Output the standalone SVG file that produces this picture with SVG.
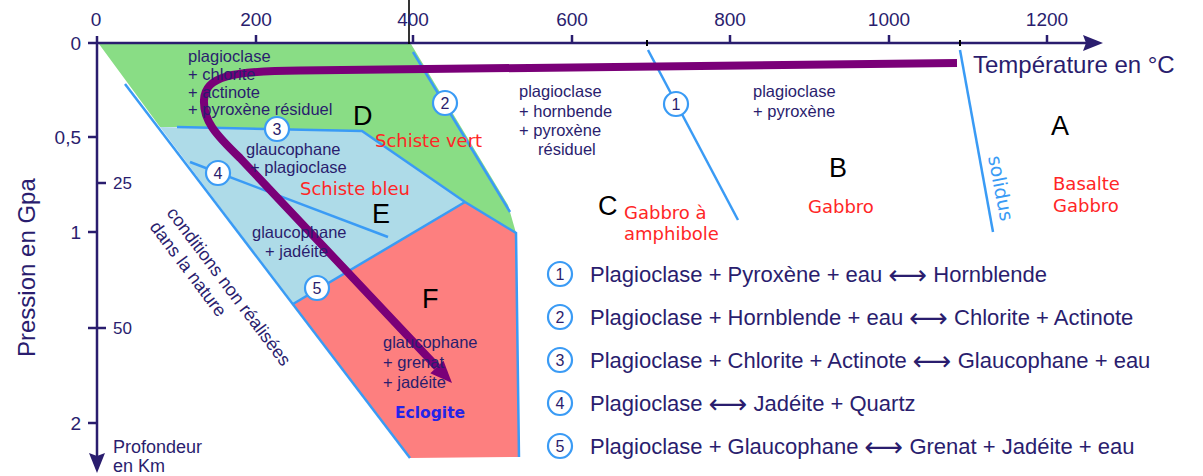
<svg xmlns="http://www.w3.org/2000/svg" width="1203" height="476" viewBox="0 0 1203 476">
<style>
.ax{stroke:#2a1d6e;stroke-width:2.5;fill:none}
.tk{stroke:#2a1d6e;stroke-width:2.5}
.t{font-family:"Liberation Sans",Arial,sans-serif;fill:#2a1d6e}
.lab{font-size:19px}
.min{font-size:16.5px}
.red{font-family:"DejaVu Sans",Verdana,sans-serif;font-size:18px;fill:#ff2626}
.big{font-family:"Liberation Sans",Arial,sans-serif;font-size:27px;fill:#000}
.bl{stroke:#3a9bf5;stroke-width:2.5;fill:none}
.cir{fill:#fff;stroke:#3a9bf5;stroke-width:2.2}
.num{font-family:"Liberation Sans",Arial,sans-serif;font-size:16px;fill:#2a1d6e;text-anchor:middle}
.leg{font-family:"Liberation Sans",Arial,"DejaVu Sans",sans-serif;font-size:22px;fill:#2a1d6e}
.arr{font-family:"DejaVu Sans",sans-serif;font-size:27px}
</style>
<rect width="1203" height="476" fill="#fff"/>

<g id="zones">
<polygon id="zone-green" points="99,44 411,44 508,205 516,233 465,202 362,131 177,127 160,127" fill="#89dd85"/>
<polygon id="zone-blue" points="160,127 362,131 465,202 293,304" fill="#aedbe8"/>
<polygon id="zone-red" points="293,304 465,202 516,233 519,457 410,458" fill="#fd7f7f"/>
</g>

<g id="connectors">
<line class="bl" x1="125" y1="84" x2="410" y2="458"/>
<polyline class="bl" points="177,127 362,131 465,202 516,233 519,457"/>
<line class="bl" x1="293" y1="304" x2="465" y2="202"/>
<line class="bl" x1="190" y1="162" x2="388" y2="237"/>
<line class="bl" x1="413" y1="52" x2="510" y2="212"/>
<line class="bl" x1="648" y1="50" x2="738" y2="220"/>
<line class="bl" x1="960" y1="50" x2="993" y2="232"/>
<path d="M957,63 L300,70.5 C232,71 205,76 204,100 C203,120 215,134 240,158 L437,367" fill="none" stroke="#7a0078" stroke-width="8"/>
<polygon points="452,383 430.3,373.2 443.5,360.8" fill="#7a0078"/>
</g>

<g id="axes">
<line class="ax" x1="97" y1="43" x2="1088" y2="43"/>
<polygon points="1103,43 1083,35 1086,43 1083,51" fill="#2a1d6e"/>
<line class="ax" x1="97" y1="36" x2="97" y2="458"/>
<polygon points="97,473 89,453 97,456 105,453" fill="#2a1d6e"/>
<g class="tk">
<line x1="256" y1="35" x2="256" y2="43"/>
<line x1="413" y1="35" x2="413" y2="43"/>
<line x1="572" y1="35" x2="572" y2="43"/>
<line x1="730" y1="35" x2="730" y2="43"/>
<line x1="889" y1="35" x2="889" y2="43"/>
<line x1="1047" y1="35" x2="1047" y2="43"/>
<line x1="88" y1="43" x2="97" y2="43"/>
<line x1="88" y1="137" x2="97" y2="137"/>
<line x1="97" y1="183" x2="106" y2="183"/>
<line x1="88" y1="232" x2="97" y2="232"/>
<line x1="88" y1="328" x2="106" y2="328"/>
<line x1="88" y1="423" x2="97" y2="423"/>
</g>
<line x1="409" y1="0" x2="409" y2="44" stroke="#000" stroke-width="1.6"/>
<line x1="647" y1="40" x2="647" y2="46" stroke="#000" stroke-width="2"/>
<line x1="960" y1="40" x2="960" y2="46" stroke="#000" stroke-width="2"/>
<g class="t lab" text-anchor="middle">
<text x="96" y="26">0</text>
<text x="256" y="26">200</text>
<text x="413" y="26">400</text>
<text x="572" y="26">600</text>
<text x="730" y="26">800</text>
<text x="889" y="26">1000</text>
<text x="1047" y="26">1200</text>
</g>
<g class="t lab" text-anchor="end">
<text x="81" y="50">0</text>
<text x="81" y="144">0,5</text>
<text x="81" y="239">1</text>
<text x="81" y="430">2</text>
</g>
<g class="t" font-size="17">
<text x="113" y="189">25</text>
<text x="113" y="334">50</text>
</g>
<text class="t" x="973" y="73" font-size="24">Température en °C</text>
<text class="t" font-size="24" transform="translate(35,357) rotate(-90)">Pression en Gpa</text>
<text class="t" font-size="18" x="113" y="453">Profondeur</text>
<text class="t" font-size="18" x="113" y="472">en Km</text>
</g>

<g id="labels">
<g class="t min">
<text x="188" y="62">plagioclase</text>
<text x="188" y="80">+ chlorite</text>
<text x="188" y="97.5">+ actinote</text>
<text x="188" y="115">+ pyroxène résiduel</text>
<text x="246" y="155">glaucophane</text>
<text x="250" y="173">+ plagioclase</text>
<text x="252" y="238">glaucophane</text>
<text x="265" y="257">+ jadéite</text>
<text x="383" y="348">glaucophane</text>
<text x="383" y="368">+ grenat</text>
<text x="383" y="388">+ jadéite</text>
<text x="519" y="97">plagioclase</text>
<text x="519" y="117">+ hornbende</text>
<text x="519" y="136">+ pyroxène</text>
<text x="538" y="155">résiduel</text>
<text x="753" y="97">plagioclase</text>
<text x="753" y="117">+ pyroxène</text>
</g>
<text class="red" x="375" y="147">Schiste vert</text>
<text class="red" x="300" y="195">Schiste bleu</text>
<text class="red" x="624" y="219">Gabbro à</text>
<text class="red" x="624" y="240">amphibole</text>
<text class="red" x="808" y="213">Gabbro</text>
<text class="red" x="1053" y="190">Basalte</text>
<text class="red" x="1053" y="212">Gabbro</text>
<text x="395" y="418" font-family="'DejaVu Sans',Verdana,sans-serif" font-weight="bold" font-size="15.5" fill="#2424e8">Eclogite</text>
<text class="big" x="353" y="125">D</text>
<text class="big" x="372" y="223">E</text>
<text class="big" x="422" y="308">F</text>
<text class="big" x="598" y="215">C</text>
<text class="big" x="829" y="177">B</text>
<text class="big" x="1051" y="135">A</text>
<text font-family="'DejaVu Sans',Verdana,sans-serif" font-size="19" fill="#3a9bf5" transform="translate(988,157) rotate(79)">solidus</text>
<g class="t" font-size="18">
<text transform="translate(166,213) rotate(53)">conditions non réalisées</text>
<text transform="translate(149,227) rotate(53)">dans la nature</text>
</g>
</g>

<g id="markers">
<circle class="cir" cx="676" cy="104" r="12"/><text class="num" x="676" y="110">1</text>
<circle class="cir" cx="445" cy="103" r="12"/><text class="num" x="445" y="109">2</text>
<circle class="cir" cx="277" cy="129" r="12"/><text class="num" x="277" y="135">3</text>
<circle class="cir" cx="218" cy="173" r="12"/><text class="num" x="218" y="179">4</text>
<circle class="cir" cx="317" cy="288" r="12"/><text class="num" x="317" y="294">5</text>
</g>

<g id="legend">
<circle class="cir" cx="560" cy="274" r="12"/><text class="num" x="560" y="280">1</text>
<text class="leg" x="590" y="282">Plagioclase + Pyroxène + eau <tspan class="arr" dy="1.5">⟷</tspan><tspan dy="-1.5"> Hornblende</tspan></text>
<circle class="cir" cx="560" cy="317" r="12"/><text class="num" x="560" y="323">2</text>
<text class="leg" x="590" y="325">Plagioclase + Hornblende + eau <tspan class="arr" dy="1.5">⟷</tspan><tspan dy="-1.5"> Chlorite + Actinote</tspan></text>
<circle class="cir" cx="560" cy="360" r="12"/><text class="num" x="560" y="366">3</text>
<text class="leg" x="590" y="368">Plagioclase + Chlorite + Actinote <tspan class="arr" dy="1.5">⟷</tspan><tspan dy="-1.5"> Glaucophane + eau</tspan></text>
<circle class="cir" cx="560" cy="403" r="12"/><text class="num" x="560" y="409">4</text>
<text class="leg" x="590" y="411">Plagioclase <tspan class="arr" dy="1.5">⟷</tspan><tspan dy="-1.5"> Jadéite + Quartz</tspan></text>
<circle class="cir" cx="560" cy="446" r="12"/><text class="num" x="560" y="452">5</text>
<text class="leg" x="590" y="454">Plagioclase + Glaucophane <tspan class="arr" dy="1.5">⟷</tspan><tspan dy="-1.5"> Grenat + Jadéite + eau</tspan></text>
</g>
</svg>
